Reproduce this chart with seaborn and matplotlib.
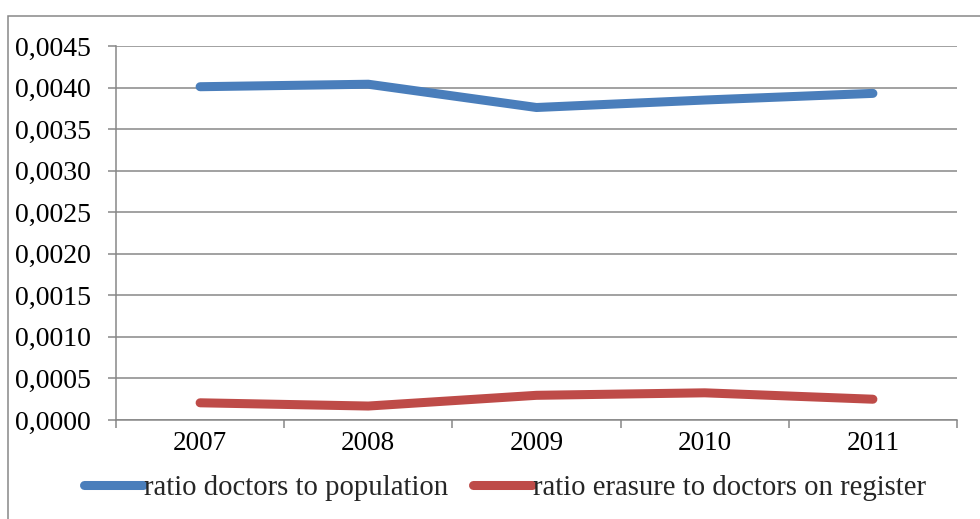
import matplotlib
matplotlib.use("Agg")
import matplotlib.pyplot as plt
from matplotlib.ticker import FuncFormatter, FixedLocator
from matplotlib.patches import Rectangle
import seaborn as sns
import pandas as pd

years = ["2007", "2008", "2009", "2010", "2011"]
doctors_to_population = [0.00401, 0.00404, 0.00376, 0.00385, 0.00393]
erasure_to_doctors = [0.000207, 0.000168, 0.000297, 0.000327, 0.000250]
series_names = ["ratio doctors to population", "ratio erasure to doctors on register"]
y_ticks = [0.0, 0.0005, 0.0010, 0.0015, 0.0020, 0.0025, 0.0030, 0.0035, 0.0040, 0.0045]

df = pd.DataFrame({
    "year": years * 2,
    "value": doctors_to_population + erasure_to_doctors,
    "series": [series_names[0]] * len(years) + [series_names[1]] * len(years),
})

sns.set_style("white")
plt.rcParams["font.family"] = ["Liberation Serif", "DejaVu Serif"]

fig = plt.figure(figsize=(9.8, 5.19), dpi=100)
ax = fig.add_axes([116 / 980, 1 - 420 / 519, (957 - 116) / 980, (420 - 46) / 519])

palette = {series_names[0]: "#4A7EBB", series_names[1]: "#BE4B48"}
sns.lineplot(data=df, x="year", y="value", hue="series", palette=palette,
             linewidth=6.5, solid_capstyle="round", ax=ax, zorder=3, sort=False)

ax.set_xlim(-0.5, len(years) - 0.5)
ax.set_ylim(0, 0.0045)
ax.yaxis.set_major_locator(FixedLocator(y_ticks))
ax.yaxis.set_major_formatter(FuncFormatter(lambda v, p: f"{v:.4f}".replace(".", ",")))
ax.grid(axis="y", color="#878787", linewidth=1.1, zorder=0)
ax.grid(axis="x", visible=False)

# category boundary ticks (major, unlabeled) and centered labels (minor)
ax.set_xticks([i - 0.5 for i in range(len(years) + 1)])
ax.set_xticklabels([])
ax.set_xticks(range(len(years)), minor=True)
ax.set_xticklabels(years, minor=True)
ax.tick_params(axis="x", which="major", length=6, width=1.1, color="#878787", direction="out")
ax.tick_params(axis="x", which="minor", length=0, pad=8, labelsize=19.5, labelcolor="black")
ax.tick_params(axis="y", length=6, width=1.1, color="#878787", direction="out", pad=12,
               labelsize=20, labelcolor="black")
ax.tick_params(bottom=True, left=True)

for s in ["top", "right"]:
    ax.spines[s].set_visible(False)
for s in ["left", "bottom"]:
    ax.spines[s].set_color("#878787")
    ax.spines[s].set_linewidth(1.1)

ax.set_xlabel("")
ax.set_ylabel("")

handles, labels = ax.get_legend_handles_labels()
ax.legend(handles, labels, loc="center", bbox_to_anchor=(505 / 980, 1 - 488 / 519),
          bbox_transform=fig.transFigure, ncol=2, frameon=False, fontsize=20.7,
          handlelength=2.05, handletextpad=0.05, columnspacing=0.85)

fig.patches.append(Rectangle((8 / 980, -0.1), 1.2, 1 - 16 / 519 + 0.1,
                             transform=fig.transFigure, fill=False,
                             edgecolor="#878787", linewidth=1.1, clip_on=False))

fig.savefig("out.png", dpi=100, facecolor="white")
